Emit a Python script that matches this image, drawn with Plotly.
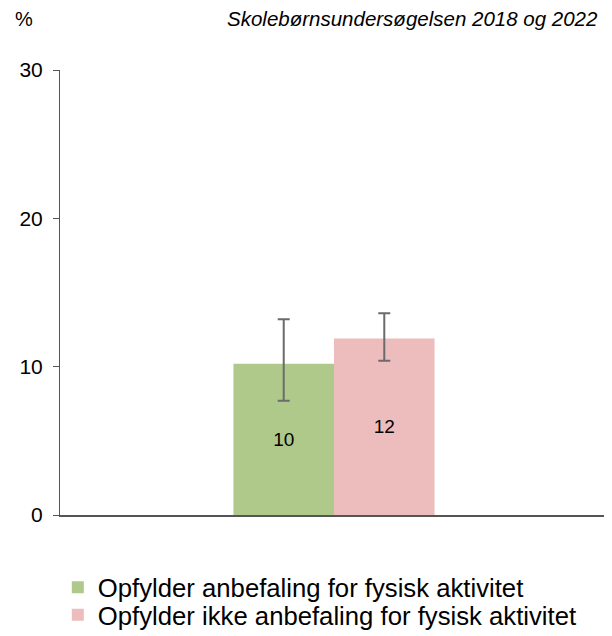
import plotly.graph_objects as go

categories = [""]
series_names = [
    "Opfylder anbefaling for fysisk aktivitet",
    "Opfylder ikke anbefaling for fysisk aktivitet",
]
values = [10.2, 11.9]
labels = ["10", "12"]
err_plus = [3.0, 1.7]
err_minus = [2.5, 1.5]
colors = ["#afc98b", "#edbcbc"]

# the page body adds an 8px offset, so the figure is drawn 8px smaller
W, H = 604, 628
legend_ids = ["legend", "legend2"]
legend_ys = [-0.163, -0.225]

fig = go.Figure()
for name, v, lab, ep, em, c, lg in zip(series_names, values, labels, err_plus, err_minus, colors, legend_ids):
    fig.add_bar(
        x=categories,
        y=[v],
        name=name,
        legend=lg,
        marker_color=c,
        marker_line_width=0,
        text=[lab],
        textposition="inside",
        insidetextanchor="middle",
        textfont=dict(size=19, color="#000"),
        error_y=dict(
            type="data",
            symmetric=False,
            array=[ep],
            arrayminus=[em],
            color="#6b6b6b",
            thickness=2,
            width=6,
        ),
    )

legend_style = dict(
    x=-0.004,
    xanchor="left",
    yanchor="middle",
    font=dict(size=25.7),
    itemsizing="constant",
    bgcolor="rgba(0,0,0,0)",
)

fig.update_layout(
    width=W,
    height=H,
    barmode="group",
    bargap=0.633,
    bargroupgap=0,
    plot_bgcolor="white",
    paper_bgcolor="white",
    font=dict(family="Arial, Liberation Sans, sans-serif", size=20, color="#000"),
    margin=dict(l=52, r=4, t=62, b=121, autoexpand=False),
    showlegend=True,
    legend=dict(y=legend_ys[0], **legend_style),
    legend2=dict(y=legend_ys[1], **legend_style),
)
fig.add_annotation(
    text="%", xref="paper", yref="paper", x=-0.085, y=1.115,
    xanchor="left", yanchor="middle", showarrow=False, font=dict(size=20),
)
fig.add_annotation(
    text="<i>Skolebørnsundersøgelsen 2018 og 2022</i>", xref="paper", yref="paper",
    x=0.985, y=1.115, xanchor="right", yanchor="middle", showarrow=False,
    font=dict(size=20.5),
)

fig.update_yaxes(
    range=[0, 30],
    tickvals=[0, 10, 20, 30],
    showgrid=False,
    zeroline=False,
    showline=True,
    linecolor="#555",
    linewidth=1,
    ticks="outside",
    ticklen=6,
    tickcolor="#555",
    ticklabelstandoff=6,
    tickfont=dict(size=21),
)
fig.update_xaxes(
    showticklabels=False,
    showline=True,
    linecolor="#555",
    linewidth=1.5,
    ticks="",
    showgrid=False,
)

fig.write_html("out.html")
